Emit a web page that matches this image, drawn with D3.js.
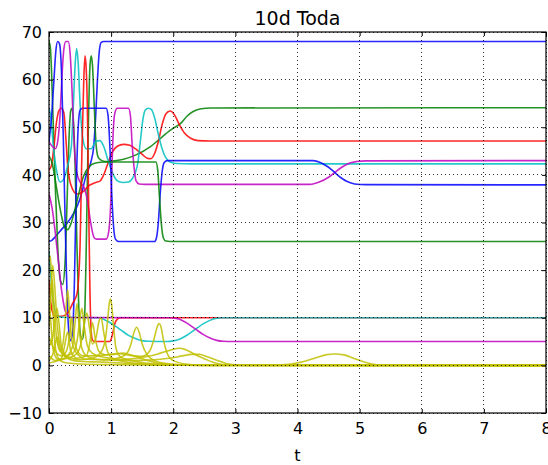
<!DOCTYPE html>
<html><head><meta charset="utf-8">
<script src="https://cdn.jsdelivr.net/npm/d3@7"></script>
<style>
body{margin:0;background:#fff}
svg{display:block}
text{font-family:"DejaVu Sans",sans-serif;fill:#000}
</style>
</head><body>
<svg id="chart" width="548" height="465"></svg>
<script>
// ---------- data ----------
const title = "10d Toda";
const xLabel = "t";
const xTicks = [0,1,2,3,4,5,6,7,8];
const yTicks = [-10,0,10,20,30,40,50,60,70];

// diagonal elements [t, value]
const blue1 = [[0,26],[0.05,26.3],[0.1,27],[0.2,28.5],[0.3,30],[0.4,32],[0.5,35],[0.6,40],[0.68,43],[0.72,46],[0.75,52],[0.78,60],[0.81,66],[0.84,67.8],[0.88,68],[8,68]];
const greenA = [[0,68],[0.02,67],[0.04,62],[0.07,50],[0.1,38],[0.14,25],[0.18,18],[0.22,17],[0.26,22],[0.29,34],[0.32,47],[0.35,53.5],[0.37,54],[0.39,52],[0.42,42],[0.45,25],[0.48,12],[0.51,6],[0.54,5.5],[0.57,9],[0.6,25],[0.63,48],[0.66,63],[0.68,65],[0.7,63],[0.73,54],[0.76,46],[0.8,43.5],[0.9,42.8],[1.0,42.9],[1.2,43.3],[1.4,44.2],[1.64,46],[1.85,48.3],[2.0,49.8],[2.12,50.8],[2.22,52.3],[2.32,53.3],[2.45,53.9],[2.6,54.05],[8,54.1]];
const redA = [[0,41],[0.04,42],[0.08,46],[0.12,51],[0.16,53.5],[0.2,54],[0.24,53],[0.27,48],[0.3,42],[0.35,38],[0.45,36],[0.55,36.5],[0.65,37.8],[0.75,38.4],[0.82,38.7],[0.88,40],[0.95,42.5],[1.02,44.8],[1.1,46],[1.2,46.4],[1.3,46.2],[1.4,45.4],[1.5,44.3],[1.58,43.5],[1.64,43.4],[1.7,44.5],[1.76,47],[1.82,50.5],[1.88,52.8],[1.95,53.4],[2.02,52.6],[2.1,50.5],[2.18,48.8],[2.28,47.7],[2.4,47.2],[2.6,47.1],[8,47.1]];
const cyanA = [[0,54],[0.03,52],[0.07,46],[0.12,41],[0.18,38.5],[0.25,39.5],[0.3,42],[0.36,46],[0.39,54],[0.42,63],[0.445,66.5],[0.47,63.5],[0.5,55],[0.54,48],[0.6,45.5],[0.68,45.5],[0.75,47],[0.82,47.2],[0.88,46],[0.94,43.5],[1.0,41.2],[1.06,39.4],[1.12,38.6],[1.2,38.4],[1.28,38.5],[1.34,39.2],[1.39,40.5],[1.43,42.5],[1.47,47],[1.51,51.5],[1.55,53.6],[1.6,54],[1.65,53.7],[1.7,52],[1.76,48.5],[1.82,45.5],[1.88,43.6],[1.95,42.7],[2.05,42.4],[2.3,42.3],[8,42.3]];
const magentaA = [[0,47],[0.05,46],[0.1,45.5],[0.14,47],[0.18,53],[0.21,61],[0.24,66.5],[0.27,68],[0.31,68],[0.34,65.5],[0.37,58],[0.4,48],[0.44,41],[0.5,38.5],[0.56,37.5],[0.62,34.5],[0.67,30],[0.72,27],[0.76,26.5],[0.92,26.5],[0.96,28],[0.99,33],[1.01,40],[1.03,48],[1.06,53],[1.1,54],[1.28,54],[1.31,52.5],[1.34,46],[1.37,41.5],[1.4,38.8],[1.45,38.1],[1.55,38],[4.2,38],[4.35,38.5],[4.5,39.5],[4.6,40.5],[4.7,41.5],[4.82,42.4],[4.95,42.8],[5.1,42.95],[8,43]];
const blue2 = [[0,47],[0.04,52],[0.08,60],[0.11,66],[0.14,68],[0.17,67.5],[0.2,62],[0.23,48],[0.26,30],[0.29,15],[0.32,7],[0.35,5.2],[0.38,7],[0.41,18],[0.44,38],[0.47,50],[0.5,53.6],[0.54,54],[0.92,54],[0.95,52.5],[0.98,46],[1.01,36],[1.04,29],[1.07,26.5],[1.12,26],[1.7,26],[1.73,26.8],[1.76,30],[1.79,36],[1.82,40.5],[1.85,42.5],[1.9,43],[4.25,43],[4.4,42.4],[4.5,41.6],[4.6,40.5],[4.7,39.4],[4.8,38.6],[4.92,38.1],[5.1,37.95],[8,37.9]];
const greenB = [[0,44],[0.05,42.5],[0.1,39],[0.15,35],[0.2,31.5],[0.25,29],[0.3,28.5],[0.36,30],[0.45,34.5],[0.55,39.5],[0.65,41.8],[0.75,42.5],[0.9,42.7],[1.72,42.7],[1.75,41],[1.78,35],[1.81,29.5],[1.84,26.8],[1.88,26.1],[1.95,26],[8,26]];
const redB = [[0,18],[0.03,13],[0.06,11],[0.1,10.3],[0.2,10.3],[0.3,11],[0.38,13],[0.45,15],[0.5,25],[0.53,45],[0.56,60],[0.58,65],[0.6,62],[0.62,52],[0.64,32],[0.66,15],[0.68,7],[0.7,5.3],[0.73,5],[0.97,5],[1.0,5.5],[1.03,7],[1.06,8.8],[1.1,9.7],[1.15,10],[8,10]];
const cyanB = [[0,24],[0.04,17],[0.08,12.5],[0.13,10.5],[0.2,10.1],[0.8,10],[0.88,9.7],[0.95,9.2],[1.05,8.4],[1.16,7.4],[1.28,6.3],[1.4,5.6],[1.5,5.2],[1.6,5.05],[1.9,5],[2.0,5.15],[2.12,5.6],[2.24,6.5],[2.36,7.6],[2.48,8.7],[2.58,9.4],[2.68,9.85],[2.8,10],[8,10]];
const magentaB = [[0,36],[0.05,33],[0.1,28],[0.15,22],[0.2,16],[0.25,12],[0.3,10.4],[0.35,10.05],[1.95,10],[2.05,9.85],[2.12,9.6],[2.24,8.7],[2.36,7.6],[2.48,6.5],[2.6,5.7],[2.7,5.25],[2.8,5.05],[2.95,5],[8,5]];

// off-diagonal elements [t, value]
const off1 = [[0,22],[0.02,23],[0.04,19],[0.07,10],[0.1,4],[0.15,1.5],[0.25,0.6],[0.5,0.3],[1,0.15],[2,0.05],[3.5,0.05],[3.9,0.3],[4.1,0.8],[4.3,1.6],[4.45,2.2],[4.6,2.4],[4.75,2.2],[4.9,1.5],[5.05,0.8],[5.2,0.3],[5.4,0.05],[8,0]];
const off2 = [[0,4],[0.06,6],[0.1,10],[0.13,12],[0.16,9],[0.2,4],[0.3,1.8],[0.5,1.2],[0.7,1.5],[0.82,2.5],[0.9,5],[0.94,9],[0.97,13],[0.99,14],[1.01,12.5],[1.04,8],[1.08,3.5],[1.15,1.8],[1.3,1.1],[1.5,0.6],[1.8,0.25],[2.2,0.05],[2.6,0],[8,0]];
const off3 = [[0,10],[0.03,16],[0.05,18],[0.08,13],[0.12,6],[0.18,3],[0.23,5],[0.27,11],[0.3,16],[0.33,11],[0.37,5],[0.45,2.5],[0.6,1.3],[0.9,1.2],[1.1,1.5],[1.25,2.5],[1.32,4.5],[1.37,7],[1.41,8],[1.45,7],[1.5,4.5],[1.58,2.2],[1.7,1],[1.9,0.4],[2.2,0.1],[2.6,0],[8,0]];
const off4 = [[0,6],[0.1,3],[0.2,2],[0.28,3],[0.33,6],[0.37,10],[0.4,6],[0.46,3],[0.55,2],[0.7,2],[0.9,2.2],[1.1,2.5],[1.3,2.1],[1.5,1.9],[1.62,3],[1.69,5.5],[1.74,8],[1.77,8.8],[1.8,8.2],[1.84,5.5],[1.9,2.6],[2.0,1],[2.2,0.3],[2.5,0.05],[8,0]];
const off5 = [[0,1],[0.08,3],[0.13,6],[0.17,3.5],[0.25,2],[0.38,2.5],[0.45,5],[0.5,10],[0.53,12],[0.56,9],[0.62,4],[0.7,2.5],[0.85,1.8],[1.0,1.5],[1.2,1.3],[1.4,1.5],[1.6,1.9],[1.75,2.4],[1.9,3],[2.0,3.4],[2.1,3.6],[2.2,3.3],[2.35,2.3],[2.5,1.4],[2.65,0.6],[2.8,0.2],[3.0,0.05],[8,0]];
const off6 = [[0,0.5],[0.15,1],[0.3,2],[0.38,4],[0.42,9],[0.45,13],[0.48,9],[0.52,4],[0.6,2],[0.75,1.3],[1.0,1.1],[1.3,1],[1.6,1.1],[1.8,1.3],[2.0,1.6],[2.15,2.0],[2.3,2.3],[2.42,2.3],[2.55,1.8],[2.7,1.1],[2.85,0.4],[3.0,0.1],[3.2,0],[8,0]];
const off7 = [[0,14],[0.03,9],[0.07,3],[0.15,1.2],[0.3,1.5],[0.45,2.5],[0.52,5],[0.57,9],[0.61,11],[0.65,8],[0.7,4.5],[0.76,6],[0.81,9.5],[0.84,10],[0.88,7],[0.94,3],[1.02,1.5],[1.2,0.8],[1.5,0.3],[2.0,0.05],[8,0]];
const off8 = [[0,2],[0.1,1],[0.2,1.5],[0.25,4],[0.3,7],[0.35,3],[0.45,1.5],[0.6,2],[0.66,5],[0.7,9],[0.74,6],[0.8,3],[0.9,2.2],[1.05,2.3],[1.18,2.6],[1.3,2.3],[1.45,1.6],[1.6,1],[1.75,0.5],[1.95,0.15],[2.2,0.03],[8,0]];
const off9 = [[0,8],[0.03,15],[0.06,21],[0.09,17],[0.13,9],[0.18,4],[0.25,2],[0.4,1],[0.55,0.8],[0.8,0.7],[1.0,0.6],[1.3,0.4],[1.6,0.2],[2.0,0.08],[2.5,0],[8,0]];

const diagSeries = [blue1, greenA, redA, cyanA, magentaA, blue2, greenB, redB, cyanB, magentaB];
const diagColors = ["#0000ff","#008000","#ff0000","#00bfbf","#bf00bf","#0000ff","#008000","#ff0000","#00bfbf","#bf00bf"];
const offSeries = [off1, off2, off3, off4, off5, off6, off7, off8, off9];
const offColor = "#bfbf00";

// ---------- layout ----------
const L = 49, R = 546, T = 32, B = 413;
const svg = d3.select("#chart");
const x = d3.scaleLinear().domain([0, 8]).range([L, R]);
const y = d3.scaleLinear().domain([-10, 70]).range([B, T]);
const fmt = d => d < 0 ? "\u2212" + Math.abs(d) : String(d);

svg.append("defs").append("clipPath").attr("id", "clip")
  .append("rect").attr("x", L).attr("y", T).attr("width", R - L).attr("height", B - T);

const line = d3.line().x(d => x(d[0])).y(d => y(d[1])).curve(d3.curveMonotoneX);
const plot = svg.append("g").attr("clip-path", "url(#clip)");

diagSeries.forEach((s, i) => {
  plot.append("path").datum(s).attr("d", line)
    .attr("fill", "none").attr("stroke", diagColors[i]).attr("stroke-width", 1.6)
    .attr("stroke-opacity", 0.85).attr("stroke-linejoin", "round");
});
offSeries.forEach(s => {
  plot.append("path").datum(s).attr("d", line)
    .attr("fill", "none").attr("stroke", offColor).attr("stroke-width", 1.6)
    .attr("stroke-opacity", 0.85).attr("stroke-linejoin", "round");
});

// grid (on top of lines, as in the reference)
const grid = svg.append("g");
xTicks.forEach(t => grid.append("line").attr("x1", x(t)).attr("x2", x(t)).attr("y1", T).attr("y2", B));
yTicks.forEach(t => grid.append("line").attr("x1", L).attr("x2", R).attr("y1", y(t)).attr("y2", y(t)));
grid.selectAll("line").attr("stroke", "#000").attr("stroke-width", 0.8)
  .attr("stroke-dasharray", "1,3").attr("shape-rendering", "crispEdges");

// axes with inward ticks
const axB = svg.append("g").attr("transform", `translate(0,${B})`)
  .call(d3.axisBottom(x).tickValues(xTicks).tickSize(-4).tickPadding(10).tickFormat(fmt));
const axL = svg.append("g").attr("transform", `translate(${L},0)`)
  .call(d3.axisLeft(y).tickValues(yTicks).tickSize(-4).tickPadding(7).tickFormat(fmt));
const axT = svg.append("g").attr("transform", `translate(0,${T})`)
  .call(d3.axisTop(x).tickValues(xTicks).tickSize(-4).tickFormat(""));
const axR = svg.append("g").attr("transform", `translate(${R},0)`)
  .call(d3.axisRight(y).tickValues(yTicks).tickSize(-4).tickFormat(""));
[axB, axL, axT, axR].forEach(a => {
  a.select(".domain").remove();
  a.selectAll("line").attr("stroke", "#000").attr("stroke-width", 1);
  a.selectAll("text").style("font-family", "'DejaVu Sans', sans-serif").style("font-size", "16px").attr("fill", "#000");
});

svg.append("rect").attr("x", L).attr("y", T).attr("width", R - L).attr("height", B - T)
  .attr("fill", "none").attr("stroke", "#000").attr("stroke-width", 1.2);

svg.append("text").attr("x", (L + R) / 2).attr("y", 25).attr("text-anchor", "middle")
  .style("font-size", "19px").text(title);
svg.append("text").attr("x", (L + R) / 2).attr("y", 461).attr("text-anchor", "middle")
  .style("font-size", "16px").text(xLabel);
</script>
</body></html>
